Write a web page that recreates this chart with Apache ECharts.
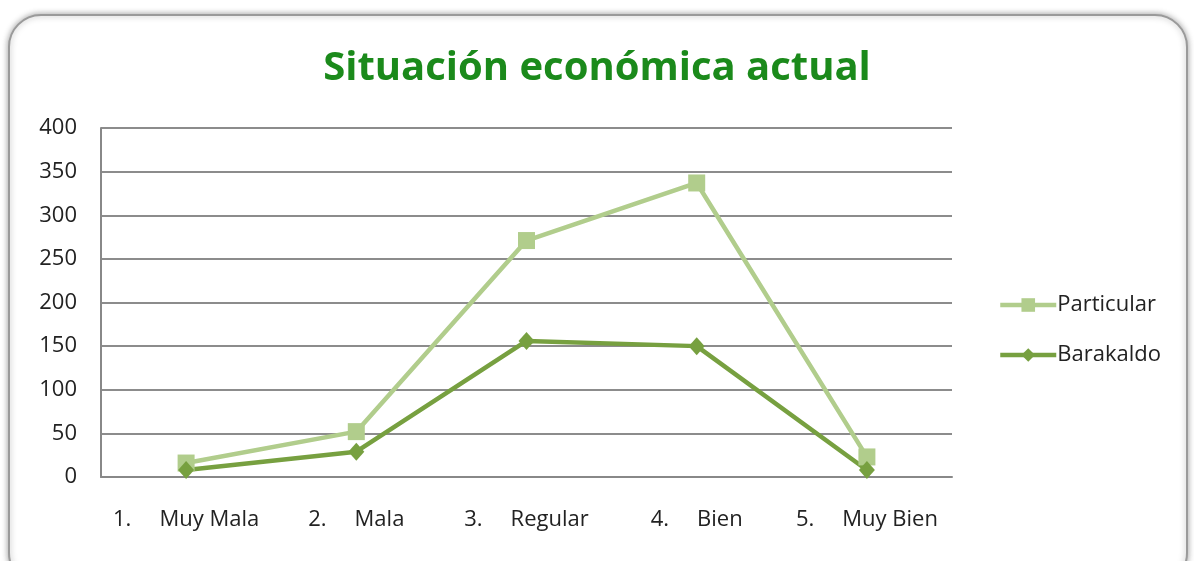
<!DOCTYPE html>
<html>
<head>
<meta charset="utf-8">
<script src="https://cdn.jsdelivr.net/npm/echarts@6/dist/echarts.min.js"></script>
<style>
  html, body { margin: 0; padding: 0; background: #fff; }
  #main { width: 1194px; height: 561px; }
</style>
</head>
<body>
<div id="main"></div>
<script>
// categorias y valores
var numeros = ["1.", "2.", "3.", "4.", "5."];
var categorias = ["Muy Mala", "Mala", "Regular", "Bien", "Muy Bien"];
var particular = [16, 52, 271, 337, 23];
var barakaldo = [8, 29, 156, 150, 8];

var colorPart = "#b1cd8c";
var colorBara = "#77a040";

var myChart = echarts.init(document.getElementById("main"));
var option = {
  backgroundColor: "#fff",
  animation: false,
  textStyle: { fontFamily: "Open Sans" },
  graphic: [
    {
      // marco redondeado
      type: "rect",
      z: -10,
      shape: { x: 9, y: 15, width: 1178, height: 570, r: 32 },
      style: {
        fill: "#fff",
        stroke: "#9a9a9a",
        lineWidth: 2,
        shadowBlur: 6,
        shadowColor: "rgba(0,0,0,0.35)"
      }
    }
  ],
  title: {
    text: "Situación económica actual",
    left: "center",
    top: 44,
    textStyle: {
      color: "#1b8a1b",
      fontSize: 40,
      fontWeight: "bold",
      fontFamily: "Open Sans"
    }
  },
  legend: {
    orient: "vertical",
    left: 993,
    top: 289,
    itemGap: 28,
    itemWidth: 56,
    itemHeight: 17,
    lineStyle: { width: 4.5 },
    textStyle: { fontSize: 22, color: "#222", padding: [0, 0, 0, -4] },
    data: ["Particular", "Barakaldo"]
  },
  grid: { left: 101, right: 242, top: 128, bottom: 84 },
  xAxis: {
    type: "category",
    data: categorias,
    boundaryGap: true,
    axisLine: { show: true, lineStyle: { color: "#888", width: 2 } },
    axisTick: { show: false },
    axisLabel: {
      margin: 32,
      formatter: function (v, i) {
        return "{n|" + numeros[i] + "}{t|" + v + "}";
      },
      rich: {
        n: { fontSize: 22, color: "#222", padding: [0, 28, 0, 0] },
        t: { fontSize: 22, color: "#222" }
      }
    }
  },
  yAxis: {
    type: "value",
    min: 0,
    max: 400,
    interval: 50,
    axisLine: { show: true, lineStyle: { color: "#888", width: 2 } },
    axisTick: { show: false },
    axisLabel: { fontSize: 22, color: "#222", margin: 24 },
    splitLine: { lineStyle: { color: "#8c8c8c", width: 2 } }
  },
  series: [
    {
      name: "Particular",
      type: "line",
      data: particular,
      symbol: "rect",
      symbolSize: 17,
      itemStyle: { color: colorPart },
      lineStyle: { color: colorPart, width: 4.5 }
    },
    {
      name: "Barakaldo",
      type: "line",
      data: barakaldo,
      symbol: "diamond",
      symbolSize: [16, 18],
      itemStyle: { color: colorBara },
      lineStyle: { color: colorBara, width: 4.5 }
    }
  ]
};
myChart.setOption(option);
</script>
</body>
</html>
